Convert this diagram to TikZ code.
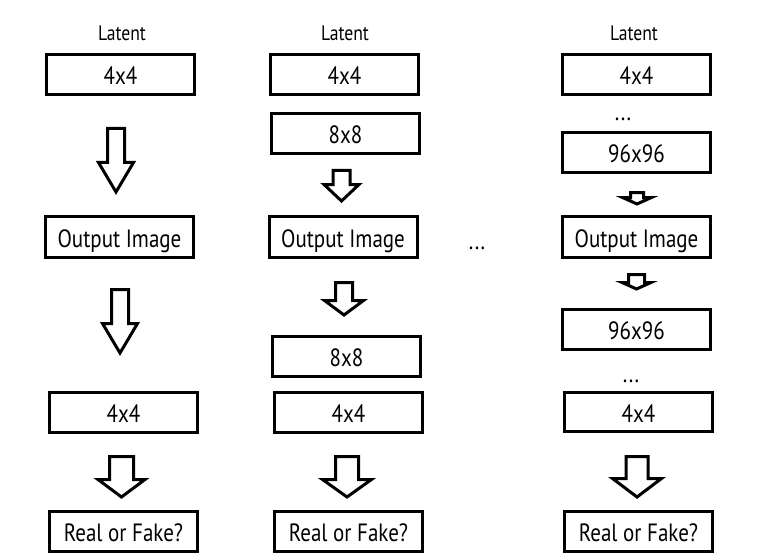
\documentclass[tikz,border=0pt]{standalone}
\usepackage{fontspec}
\setmainfont{PT Sans}[FakeStretch=0.84]
\begin{document}
\begin{tikzpicture}[x=1pt,y=-1pt,
  box/.style={draw,line width=3pt,minimum width=148pt,minimum height=40pt,inner sep=0pt,text height=20.5pt,text depth=0pt,font=\fontsize{25}{28}\selectfont},
  lbl/.style={font=\fontsize{21}{23}\selectfont,inner sep=0pt},
  dots/.style={font=\fontsize{25}{27}\selectfont,inner sep=0pt,anchor=base},
  arr/.style={draw,line width=3pt,line join=miter,fill=white}]
\useasboundingbox[fill=white] (0,0) rectangle (770,556);
\newcommand\blkarrow[6]{%
  \draw[arr] (#1-#5,#2) -- (#1+#5,#2) -- (#1+#5,#3) -- (#1+#6,#3) -- (#1,#4) -- (#1-#6,#3) -- (#1-#5,#3) -- cycle;}
% column 1
\node[lbl] (L1) at (122,33) {Latent};
\node[box] (a1) at (120.5,74.5) {4x4};
\node[box,minimum height=41pt] (o1) at (119.5,237) {Output Image};
\node[box] (b1) at (123.5,412.5) {4x4};
\node[box] (r1) at (123.5,531.5) {Real or Fake?};
\blkarrow{116}{128.5}{162.5}{192}{8.5}{17.5}
\blkarrow{120}{289.5}{323.5}{353}{8.5}{17.5}
\blkarrow{121.5}{456.5}{479.5}{497}{12}{23.5}
% column 2
\node[lbl] (L2) at (345,33) {Latent};
\node[box] (a2) at (344.5,74.5) {4x4};
\node[box] (c2) at (345.5,133.5) {8x8};
\node[box,minimum height=41pt] (o2) at (343,237) {Output Image};
\node[box] (d2) at (346.5,356.5) {8x8};
\node[box] (b2) at (348.5,412.5) {4x4};
\node[box] (r2) at (348.5,531.5) {Real or Fake?};
\blkarrow{341.5}{170.5}{184.5}{201}{8.5}{17.5}
\blkarrow{344}{282.5}{300.5}{315}{8.5}{19.5}
\blkarrow{347}{456.5}{479.5}{497}{11.5}{24.5}
% middle dots
\node[dots] (m) at (477,249) {...};
% column 3
\node[lbl] (L3) at (634,33) {Latent};
\node[box] (a3) at (636.5,74.5) {4x4};
\node[dots] (d3a) at (623,121) {...};
\node[box] (e3) at (636.5,152.5) {96x96};
\node[box,minimum height=41pt] (o3) at (636.5,237) {Output Image};
\node[box] (f3) at (636.5,329.5) {96x96};
\node[dots] (d3b) at (631,382) {...};
\node[box,minimum height=39pt] (b3) at (638.5,412) {4x4};
\node[box] (r3) at (638.5,531.5) {Real or Fake?};
\blkarrow{637}{192.5}{197.5}{204}{6.5}{14.5}
\blkarrow{636.5}{274.5}{282.5}{289}{8}{14.5}
\blkarrow{637}{456.5}{478.5}{497}{11}{24.5}
\end{tikzpicture}
\end{document}
